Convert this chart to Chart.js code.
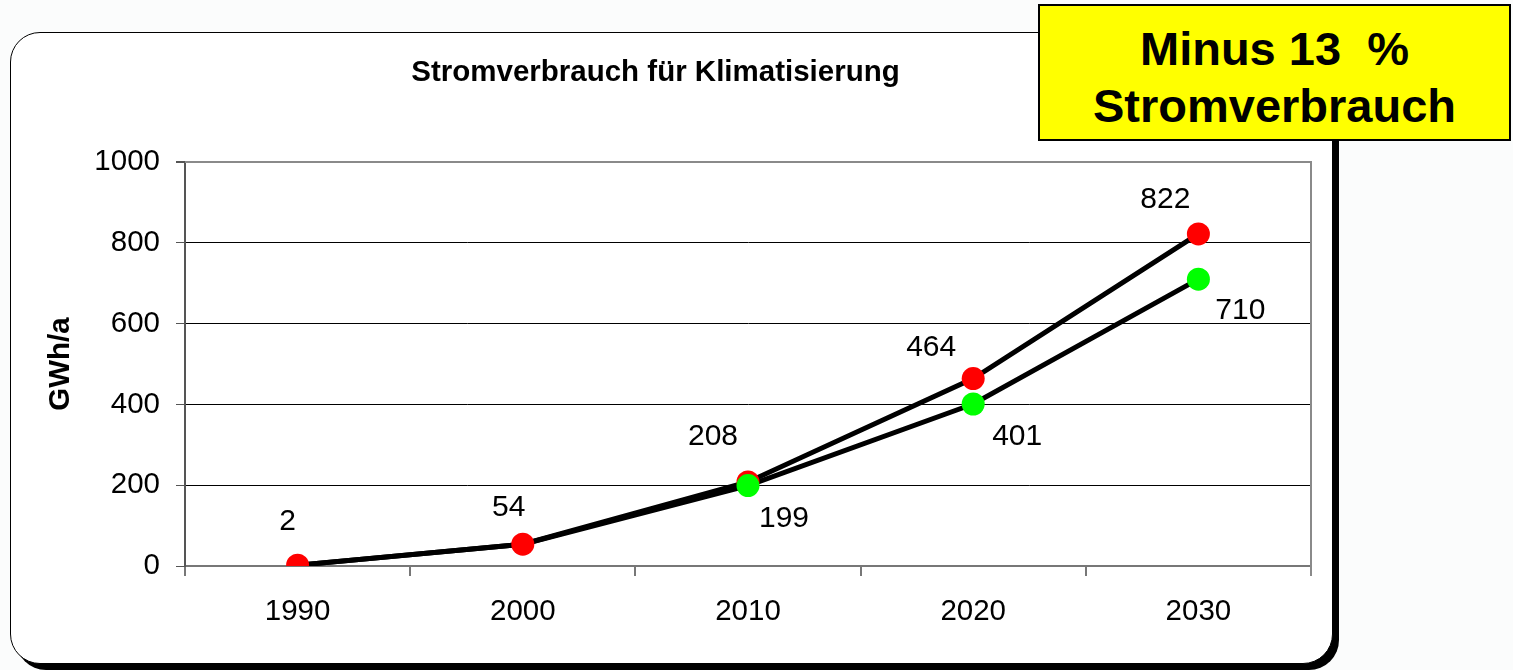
<!DOCTYPE html>
<html><head><meta charset="utf-8">
<script src="https://cdn.jsdelivr.net/npm/chart.js@4.4.1/dist/chart.umd.min.js"></script>
<style>
html,body{margin:0;padding:0;width:1513px;height:670px;overflow:hidden;background:#fbfcfc;}
#card{position:absolute;left:10px;top:32px;width:1321px;height:630px;border:1px solid #000;border-radius:30px;background:#fff;box-shadow:6px 6px 0 0 #000;z-index:0;}
#chart{position:absolute;left:0;top:0;z-index:1;}
#note{position:absolute;left:1038px;top:4px;width:469px;height:119px;padding-top:14px;border:2px solid #000;background:#ffff00;z-index:2;
 font-family:"Liberation Sans",Arial,sans-serif;font-weight:bold;font-size:47px;line-height:57px;text-align:center;white-space:pre;color:#000;}
</style></head>
<body>
<div id="card"></div>
<canvas id="chart" width="1513" height="670"></canvas>
<div id="note">Minus 13  %
Stromverbrauch</div>
<script>
const years = ['1990', '2000', '2010', '2020', '2030'];
const withoutMeasures = [2, 54, 208, 464, 822];
const withMeasures = [2, 54, 199, 401, 710];
const yTickValues = [0, 200, 400, 600, 800, 1000];
const chartTitle = 'Stromverbrauch für Klimatisierung';
const yAxisTitle = 'GWh/a';

// label placement (pixel offsets from each point), style only
const redLabelOffsets = [[-10, -43], [-14, -36], [-35, -45], [-42, -31], [-33, -34]];
const greenLabelOffsets = [null, null, [36, 33], [44, 33], [42, 32]];

const FONT = '"Liberation Sans", Arial, sans-serif';

const labelPlugin = {
  id: 'pointLabels',
  afterDatasetsDraw(chart) {
    const ctx = chart.ctx;
    ctx.save();
    ctx.font = '30px ' + FONT;
    ctx.fillStyle = '#000';
    ctx.textAlign = 'center';
    ctx.textBaseline = 'middle';
    chart.data.datasets.forEach((ds, di) => {
      if (!ds.labelOffsets) return;
      const meta = chart.getDatasetMeta(di);
      meta.data.forEach((pt, i) => {
        const off = ds.labelOffsets[i];
        if (!off || ds.data[i] == null) return;
        ctx.fillText(String(ds.data[i]), pt.x + off[0], pt.y + off[1]);
      });
    });
    ctx.restore();
  }
};

const framePlugin = {
  id: 'plotFrame',
  afterDraw(chart) {
    const {ctx, chartArea: a} = chart;
    ctx.save();
    ctx.strokeStyle = '#8a8a8a';
    ctx.lineWidth = 2;
    ctx.beginPath();
    ctx.moveTo(a.left, a.top);
    ctx.lineTo(a.right, a.top);
    ctx.lineTo(a.right, a.bottom + 10);
    ctx.stroke();
    ctx.restore();
  }
};

new Chart(document.getElementById('chart'), {
  type: 'line',
  data: {
    labels: years,
    datasets: [
      { data: withMeasures, borderColor: '#000', borderWidth: 5, pointRadius: 0, tension: 0, order: 3, fill: false },
      { data: withoutMeasures, borderColor: '#000', borderWidth: 5, pointRadius: 0, tension: 0, order: 2, fill: false },
      { data: withoutMeasures, showLine: false, pointRadius: 11.5, pointBackgroundColor: '#ff0000', pointBorderWidth: 0, pointBorderColor: '#ff0000', order: 1, labelOffsets: redLabelOffsets },
      { data: withMeasures, showLine: false, pointRadius: (c) => c.dataIndex < 2 ? 0 : 11.5, pointBackgroundColor: '#00ff00', pointBorderWidth: 0, pointBorderColor: '#00ff00', order: 0, labelOffsets: greenLabelOffsets }
    ]
  },
  options: {
    responsive: false,
    animation: false,
    layout: { padding: { left: 0, right: 202, top: 0, bottom: 0 } },
    plugins: {
      legend: { display: false },
      tooltip: { enabled: false },
      title: {
        display: true,
        text: chartTitle,
        color: '#000',
        font: { family: FONT, size: 29.5, weight: 'bold', lineHeight: 1.2 },
        padding: { top: 55, bottom: 71.6 }
      }
    },
    scales: {
      x: {
        offset: true,
        grid: { offset: true, drawOnChartArea: false, drawTicks: true, tickLength: 10, color: '#777', lineWidth: 2 },
        border: { color: '#777', width: 2 },
        ticks: { color: '#000', padding: 18, font: { family: FONT, size: 29.5 }, maxRotation: 0 },
        afterFit(s) { s.height = 104; }
      },
      y: {
        min: 0, max: 1000,
        afterBuildTicks(s) { s.ticks = yTickValues.map(v => ({ value: v })); },
        grid: {
          color: (c) => c.tick && c.tick.value === 1000 ? '#8a8a8a' : '#000',
          lineWidth: (c) => c.tick && c.tick.value === 1000 ? 2 : 1,
          tickColor: '#555', tickLength: 9
        },
        border: { color: '#555', width: 2 },
        ticks: { color: '#000', padding: 16, font: { family: FONT, size: 29.5 }, callback: (v) => String(v) },
        title: { display: true, text: yAxisTitle, color: '#000', font: { family: FONT, size: 29.5, weight: 'bold', lineHeight: 1.2 }, padding: { top: 43, bottom: 0 } },
        afterFit(s) { s.width = 185; }
      }
    }
  },
  plugins: [labelPlugin, framePlugin]
});
</script>
</body></html>
